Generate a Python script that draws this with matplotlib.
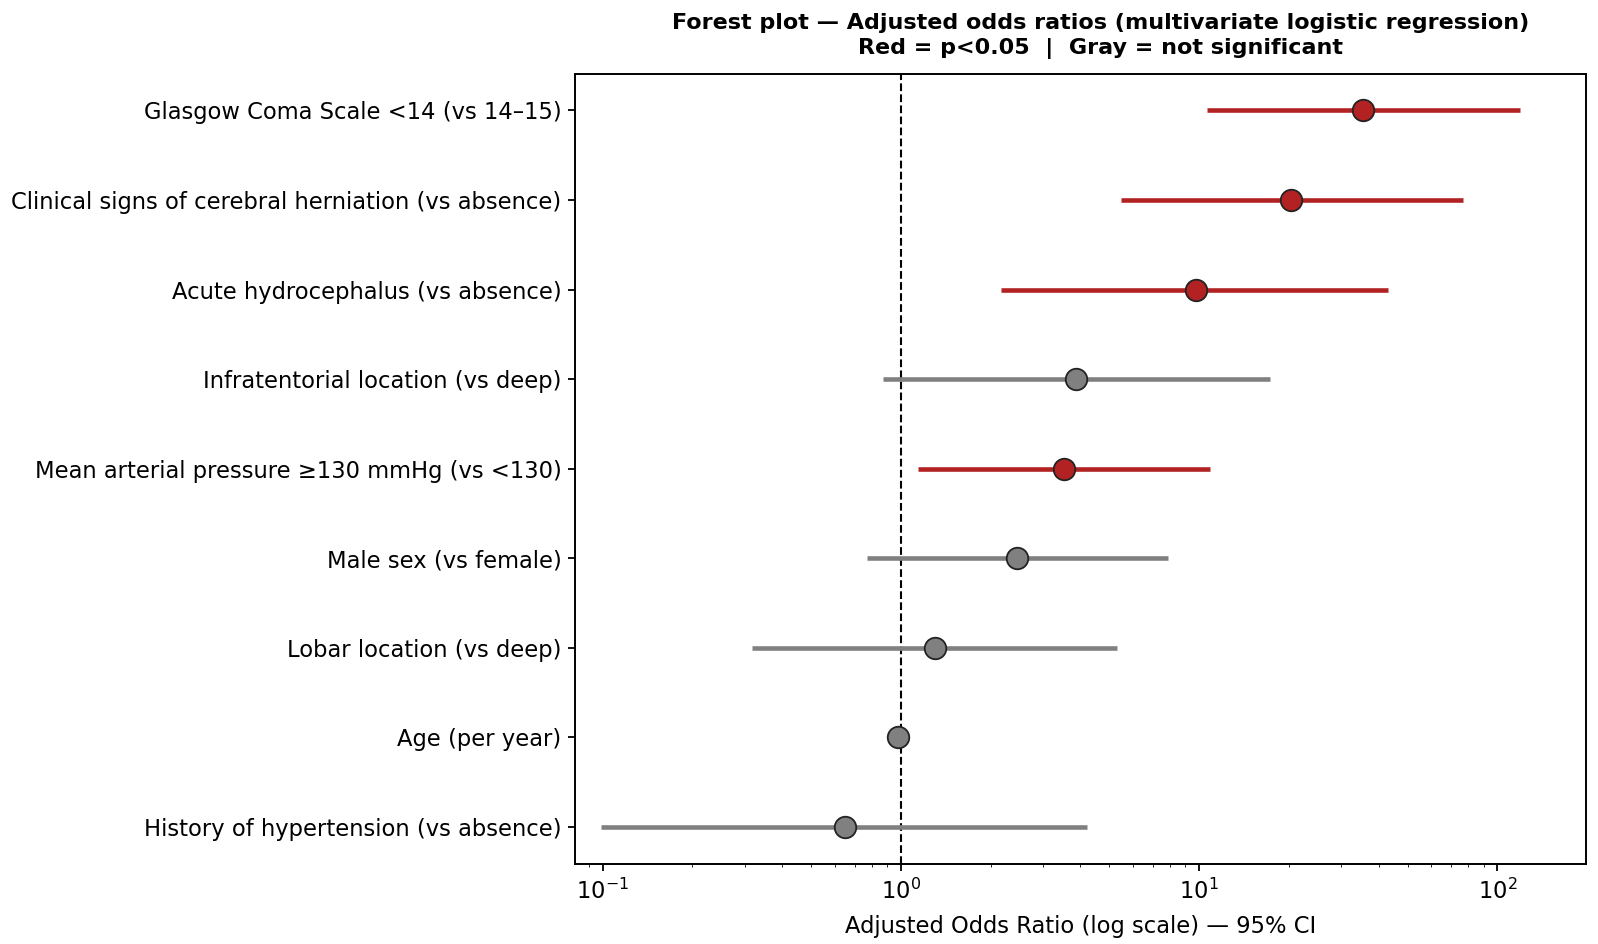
import numpy as np
import matplotlib.pyplot as plt

# Variabler (nederst først)
labels = [
    'History of hypertension (vs absence)',
    'Age (per year)',
    'Lobar location (vs deep)',
    'Male sex (vs female)',
    'Mean arterial pressure \u2265130 mmHg (vs <130)',
    'Infratentorial location (vs deep)',
    'Acute hydrocephalus (vs absence)',
    'Clinical signs of cerebral herniation (vs absence)',
    'Glasgow Coma Scale <14 (vs 14\u201315)',
]
odds = [0.65, 0.98, 1.30, 2.45, 3.52, 3.87, 9.73, 20.4, 35.4]
ci_low = [0.099, 0.96, 0.317, 0.771, 1.14, 0.868, 2.16, 5.47, 10.6]
ci_high = [4.20, 1.00, 5.31, 7.87, 10.9, 17.3, 43.1, 76.5, 119.0]
significant = [False, False, False, False, True, False, True, True, True]

red = '#b22222'
gray = '#808080'
fs = 16.3

fig = plt.figure(figsize=(15.98, 9.44), dpi=100)
ax = fig.add_axes([0.360, 0.085, 0.6324, 0.837])

y = np.arange(len(labels))
for i in y:
    c = red if significant[i] else gray
    ax.plot([ci_low[i], ci_high[i]], [i, i], color=c, lw=3.3, solid_capstyle='butt', zorder=2)
    ax.plot(odds[i], i, 'o', color=c, markersize=15.5, markeredgecolor='#222222',
            markeredgewidth=1.3, zorder=3)

ax.axvline(1, color='black', ls='--', lw=1.5, zorder=1)
ax.set_xscale('log')
ax.set_xlim(0.081, 198)
ax.set_ylim(-0.41, 8.41)
ax.set_yticks(y)
ax.set_yticklabels(labels, fontsize=fs)
ax.tick_params(axis='x', labelsize=fs, pad=6)
ax.tick_params(axis='y', pad=5)
ax.tick_params(axis='both', which='major', length=5, width=1.3)
ax.set_xlabel('Adjusted Odds Ratio (log scale) \u2014 95% CI', fontsize=fs, labelpad=8)
ax.set_title('Forest plot \u2014 Adjusted odds ratios (multivariate logistic regression)\n'
             'Red = p<0.05  |  Gray = not significant', fontsize=16, fontweight='bold',
             pad=14, x=0.52, linespacing=1.35)
for s in ax.spines.values():
    s.set_linewidth(1.4)

fig.savefig('out.png', dpi=100)
